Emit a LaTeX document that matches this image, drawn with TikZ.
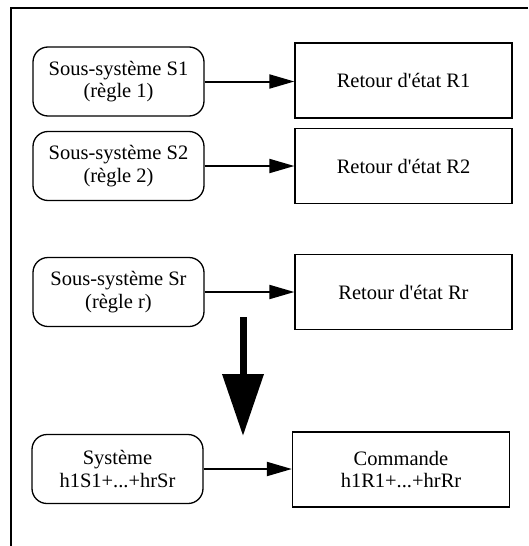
\documentclass[tikz,border=0pt]{standalone}
\usepackage{fontspec}
\setmainfont{Liberation Serif}[Ligatures=TeXOff]
\usetikzlibrary{arrows.meta}
\begin{document}
\begin{tikzpicture}[x=1pt,y=-1pt,
  every node/.style={font=\fontsize{20.5}{22.5}\selectfont, align=center, inner sep=0pt, line width=1.3pt},
  sbox/.style={draw, rounded corners=15pt, minimum width=171pt, minimum height=69pt},
  rbox/.style={draw, minimum width=217pt, minimum height=75pt},
  conn/.style={line width=2pt, -{Triangle[length=25pt,width=14pt]}},
  bigarrow/.style={line width=7pt, -{Triangle[length=62pt,width=40pt]}}]
\useasboundingbox (0,0) rectangle (528,546);
\draw[line width=1.3pt] (11,546) -- (11,8) -- (528,8);
\node[sbox] (s1) at (118.5,81.5) {Sous-système S1\\(règle 1)};
\node[sbox] (s2) at (118.5,166) {Sous-système S2\\(règle 2)};
\node[sbox] (sr) at (118.5,292) {Sous-système Sr\\(règle r)};
\node[sbox] (sys) at (117.5,469) {Système\\h1S1+...+hrSr};
\node[rbox] (r1) at (403.5,80.5) {Retour d'état R1};
\node[rbox] (r2) at (403.5,166) {Retour d'état R2};
\node[rbox] (rr) at (403.5,292) {Retour d'état Rr};
\node[rbox] (cmd) at (401,469.5) {Commande\\h1R1+...+hrRr};
\draw[conn] (s1.east) -- (s1.east -| r1.west);
\draw[conn] (s2.east) -- (s2.east -| r2.west);
\draw[conn] (sr.east) -- (sr.east -| rr.west);
\draw[conn] (sys.east) -- (sys.east -| cmd.west);
\coordinate (bstart) at (243,317);
\coordinate (bend) at (243,436);
\draw[bigarrow] (bstart) -- (bend);
\end{tikzpicture}
\end{document}
